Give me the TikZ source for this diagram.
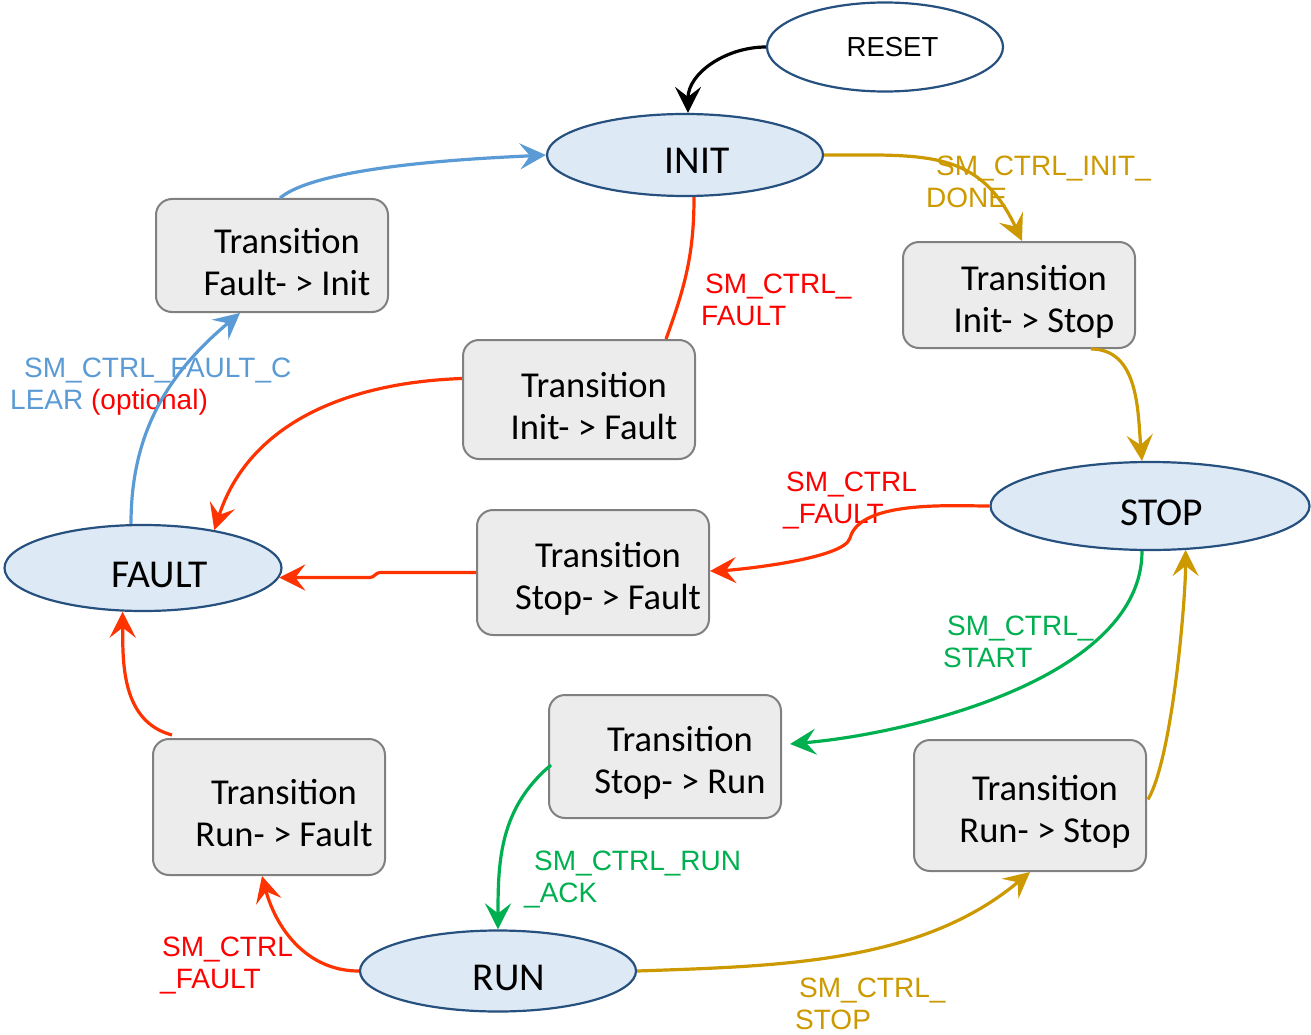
\documentclass[tikz,border=0pt]{standalone}
\usepackage{fontspec}
\setmainfont{Carlito}
\newfontfamily\arialfont{Liberation Sans}
\usetikzlibrary{shapes.geometric,arrows.meta,calc}

\definecolor{stateline}{RGB}{38,80,126}
\definecolor{statefill}{RGB}{222,233,246}
\definecolor{boxline}{RGB}{128,128,128}
\definecolor{boxfill}{RGB}{236,236,236}
\definecolor{redline}{RGB}{255,51,0}
\definecolor{redtext}{RGB}{255,0,0}
\definecolor{gold}{RGB}{204,153,0}
\definecolor{smgreen}{RGB}{0,176,80}
\definecolor{smblue}{RGB}{91,155,213}

\newcommand{\trans}[2]{\hspace*{30pt}\rule{0pt}{38pt}Transition\\\hspace*{30pt}#1- > #2}

\begin{document}
\begin{tikzpicture}[
    x=1pt, y=1pt,
    state/.style={
        ellipse, draw=stateline, fill=statefill, line width=2.2pt,
        inner sep=0pt, text height=38pt, text depth=0pt,
        font=\fontsize{39.5}{44}\selectfont
    },
    tbox/.style={
        rectangle, draw=boxline, fill=boxfill, rounded corners=16pt,
        line width=2pt, minimum width=232pt, align=center, inner sep=0pt,
        font=\fontsize{36.5}{42}\selectfont
    },
    wire/.style={line width=3.2pt},
    arrow/.style={wire, -{Stealth[length=26pt, width=26pt, inset=10pt]}},
    lbl/.style={anchor=west, align=left, inner sep=0pt,
        font=\arialfont\fontsize{28}{32}\selectfont}
]
\useasboundingbox (0,0) rectangle (1311,-1035);

% States
\node[state, fill=white, minimum width=236pt, minimum height=89pt, text height=19.7pt,
      font=\arialfont\fontsize{27.5}{32}\selectfont] (reset) at (885,-47) {\hspace*{15pt}RESET};
\node[state, minimum width=276pt, minimum height=82pt] (init)  at (685,-155) {\hspace*{24pt}INIT};
\node[state, minimum width=319pt, minimum height=88pt] (stop)  at (1150,-506) {\hspace*{24pt}STOP};
\node[state, minimum width=277pt, minimum height=86pt] (fault) at (143,-568) {\hspace*{34pt}FAULT};
\node[state, minimum width=276pt, minimum height=81pt] (run)   at (498,-971) {\hspace*{22pt}RUN};

% Transitions
\node[tbox, minimum height=113pt] (fi)  at (272,-255.5)  {\trans{Fault}{Init}};
\node[tbox, minimum height=119pt] (ifa) at (579,-399.5)  {\trans{Init}{Fault}};
\node[tbox, minimum height=106pt] (is)  at (1019,-295)   {\trans{Init}{Stop}};
\node[tbox, minimum height=125pt] (sf)  at (593,-572.5)  {\trans{Stop}{Fault}};
\node[tbox, minimum height=123pt] (sr)  at (665,-756.5)  {\trans{Stop}{Run}};
\node[tbox, minimum height=136pt] (rf)  at (269,-807)    {\trans{Run}{Fault}};
\node[tbox, minimum height=131pt] (rs)  at (1030,-805.5) {\trans{Run}{Stop}};

% Labels
\node[lbl, text=gold]    (lDone)   at (926,-182)   {\hspace*{10pt}SM\_CTRL\_INIT\_\\DONE};
\node[lbl, text=redtext] (lFaultI) at (701,-300)   {\hspace*{4pt}SM\_CTRL\_\\FAULT};
\node[lbl, text=smblue]  (lClear)  at (10,-387)    {\hspace*{14pt}SM\_CTRL\_FAULT\_C\\LEAR \textcolor{redtext}{(optional)}};
\node[lbl, text=redtext] (lFaultS) at (783,-501)   {\hspace*{3pt}SM\_CTRL\\\_FAULT};
\node[lbl, text=smgreen] (lStart)  at (943,-642)   {\hspace*{4pt}SM\_CTRL\_\\START};
\node[lbl, text=smgreen] (lAck)    at (524,-879)   {\hspace*{10pt}SM\_CTRL\_RUN\\\_ACK};
\node[lbl, text=redtext] (lFaultR) at (160,-965)   {\hspace*{2pt}SM\_CTRL\\\_FAULT};
\node[lbl, text=gold]    (lStop)   at (795,-1004)  {\hspace*{4pt}SM\_CTRL\_\\STOP};

% Edges
\draw[arrow] (reset.west) to[out=180, in=90] ($(init.north)+(3,0)$);
\draw[arrow, gold] (init.east) to[out=0, in=115, looseness=1.2] ($(is.north)+(3,0)$);
\draw[arrow, gold] ($(is.south east)+(-45,0)$) to[out=0, in=95] ($(stop.north)+(-8,0)$);
\draw[wire, redline] ($(init.south)+(9,0)$) to[out=-90, in=70] ($(ifa.north)+(87,0)$);
\draw[arrow, redline] ($(ifa.west)+(0,21)$) to[out=182, in=72] (fault.28);
\draw[arrow, smblue] ($(fi.north)+(8,0)$) to[out=40, in=183, looseness=0.5] (init.west);
\draw[arrow, smblue] ($(fault.north)+(-12,0)$) to[out=90, in=-140] ($(fi.south)+(-32,0)$);
% stop -> fault goes round a small bend
\coordinate (bend) at (850,-538);
\draw[arrow, redline] (stop.west) to[out=180, in=75, looseness=0.7] (bend)
      to[out=-105, in=2, looseness=0.4] ($(sf.east)+(0,1.5)$);
\draw[arrow, redline] (sf.west) -- ++(-96,0) to[out=180, in=0] ++(-10,-5) -- (fault.-4);
\draw[arrow, smgreen] ($(stop.south)+(-8,0)$) to[out=-90, in=5, looseness=0.8] ($(sr.east)+(8,12.5)$);
\draw[arrow, smgreen] ($(sr.west)+(3,-8.5)$) to[out=220, in=90] (run.north);
\draw[arrow, redline] (run.west) to[out=180, in=-75] ($(rf.south)+(-7,0)$);
\draw[arrow, redline] ($(rf.north west)+(20,3)$) to[out=165, in=-90] (fault.245);
\draw[arrow, gold] (run.east) to[out=2, in=-140, looseness=0.9] (rs.south);
\draw[arrow, gold] ($(rs.east)+(1,6)$) to[out=60, in=-90, looseness=0.5] (stop.-51);

\end{tikzpicture}
\end{document}
